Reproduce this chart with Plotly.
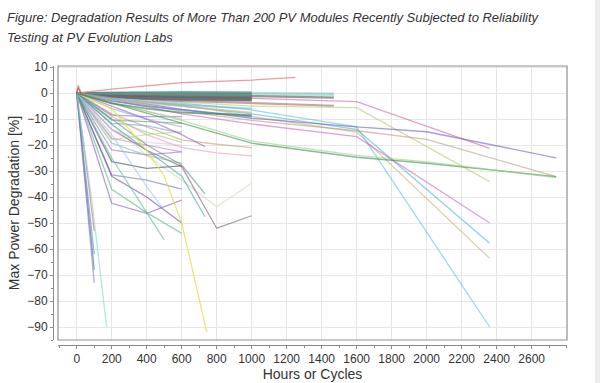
import plotly.graph_objects as go

# ---------------- text ----------------
title_line1 = "Figure: Degradation Results of More Than 200 PV Modules Recently Subjected to Reliability"
title_line2 = "Testing at PV Evolution Labs"
x_title = "Hours or Cycles"
y_title = "Max Power Degradation [%]"
x_ticks = list(range(0, 2601, 200))
y_ticks = list(range(-90, 11, 10))

# ---------------- data (max power degradation, %) ----------------
# modules that stay close to zero up to 1000 h
band_hours = [0, 200, 400, 600, 1000]
band_values = [
    [0, 0.2, 0.3, 0.4, 0.3],
    [0, -0.1, -0.2, -0.2, -0.3],
    [0, -0.3, -0.4, -0.5, -0.6],
    [0, -0.4, -0.6, -0.8, -0.9],
    [0, -0.5, -0.8, -1.0, -1.2],
    [0, -0.7, -1.0, -1.2, -1.5],
    [0, -0.8, -1.2, -1.5, -1.8],
    [0, -1.0, -1.4, -1.7, -2.1],
    [0, -1.1, -1.6, -2.0, -2.4],
    [0, -1.2, -1.8, -2.2, -2.7],
    [0, -0.6, -0.9, -1.1, -1.0],
    [0, -0.9, -1.3, -1.6, -1.9],
    [0, -1.3, -2.0, -2.4, -2.5],
    [0, -0.2, -0.3, -0.5, -0.7],
    [0, -1.5, -2.2, -2.6, -3.0],
    [0, -2.0, -3.5, -4.5, -6.0],
    [0, -3.0, -5.0, -6.5, -9.1],
    [0, -2.5, -4.0, -5.0, -7.5],
    [0, -4.0, -6.0, -7.5, -8.5],
]

# modules tested to ~1470 h
ext_hours = [0, 200, 600, 1000, 1470]
ext_values = [
    [0, 0.3, 0.2, 0.0, -0.2],
    [0, -0.2, -0.4, -0.5, -0.8],
    [0, -0.6, -1.0, -1.2, -1.8],
    [0, -1.5, -3.0, -4.0, -4.9],
]

# module with power gain
rise_hours = [0, 200, 600, 1000, 1250]
rise_values = [0, 1.5, 4.0, 5.0, 6.0]

# modules tested to ~2360 h
long_a_hours = [0, 600, 1000, 1600, 2360]
long_a_values = [
    [0, -1.5, -2.0, -3.3, -21.3],
    [0, -3.5, -5.0, -5.6, -34.1],
    [0, -4.0, -6.5, -13.0, -90.0],
    [0, -5.0, -8.0, -14.0, -57.8],
    [0, -4.5, -9.0, -15.0, -63.6],
    [0, -8.0, -11.9, -16.8, -50.0],
]

# modules tested to ~2740 h
long_b_hours = [0, 600, 1000, 1600, 2000, 2740]
long_b_values = [
    [0, -6.3, -9.7, -13.0, -14.9, -24.9],
    [0, -7.0, -10.5, -14.5, -17.8, -32.2],
    [0, -11.7, -19.3, -24.7, -27.0, -32.2],
    [0, -10.5, -18.5, -24.0, -26.5, -32.5],
]

# modules tested to ~730 h
mid_hours = [0, 200, 400, 600, 733]
mid_values = [
    [0, -5.0, -10.0, -16.0, -20.6],
    [0, -10.0, -20.0, -27.7, -38.8],
    [0, -12.0, -22.0, -32.0, -47.6],
]

# modules tested to 1000 h with an 800 h reading
k_hours = [0, 200, 400, 600, 800, 1000]
k_values = [
    [0, -8.0, -13.0, -18.0, -19.7, -21.0],
    [0, -9.0, -16.0, -21.0, -23.0, -24.2],
    [0, -12.0, -24.0, -33.5, -43.7, -34.7],
    [0, -14.0, -22.0, -28.3, -52.0, -47.2],
]

# modules tested to 600 h
short_hours = [0, 200, 400, 600]
short_values = [
    [0, -8.5, -9.1, -9.1],
    [0, -10.4, -11.0, -11.7],
    [0, -11.7, -12.5, -15.5],
    [0, -18.0, -16.0, -14.8],
    [0, -17.4, -20.0, -22.6],
    [0, -21.9, -23.8, -22.6],
    [0, -26.4, -29.0, -28.0],
    [0, -19.3, -24.0, -27.0],
    [0, -31.5, -33.5, -37.0],
    [0, -42.4, -46.3, -41.2],
    [0, -32.0, -40.0, -50.0],
    [0, -37.0, -46.0, -54.0],
    [0, -4.0, -7.0, -10.0],
    [0, -6.0, -10.0, -13.0],
    [0, -14.0, -19.0, -20.0],
    [0, -10.0, -15.0, -19.0],
]

# modules tested to 500 h
half_hours = [0, 200, 400, 500]
half_values = [
    [0, -25.0, -46.0, -56.5],
    [0, -16.0, -36.0, -45.0],
]

# yellow module with severe late failure
yellow_hours = [0, 200, 400, 500, 600, 743]
yellow_values = [0, -6.0, -22.0, -32.0, -50.0, -92.0]

# early catastrophic failures
early_hours = [0, 50, 100]
early_values = [
    [0, -35.0, -68.0],
    [0, -36.0, -73.0],
    [0, -25.0, -53.0],
    [0, -30.0, -62.0],
]
cyan_fail_hours = [0, 86, 171]
cyan_fail_values = [0, -41.0, -90.0]

# small initial gain readings
spike_hours = [0, 8, 25]
spike_values = [
    [0, 3.0, 0.0],
    [0, 2.0, -0.5],
]

# ---------------- styles ----------------
band_colors = ["#2a9d8f", "#a0413c", "#3c8c50", "#6b6b6b", "#8c5a3c", "#2aa6a0",
               "#b04848", "#5a7d6b", "#7a4b4b", "#2e8b7a", "#c06060", "#4a6f8a",
               "#8c6d4f", "#45b5aa", "#6e5a80", "#6cb8e0", "#5a78d6", "#c8b27a", "#3c8c50"]
ext_colors = ["#7cc8bc", "#9ad0c8", "#555555", "#9c6f5a"]
long_a_colors = ["#d9609f", "#bcc870", "#5cc0e0", "#4ab8d0", "#c8b27a", "#c867c8"]
long_b_colors = ["#6a5fd0", "#c09a7a", "#3c8c50", "#8fd67a"]
mid_colors = ["#9a5fd0", "#5a8c8c", "#3aa6a0"]
k_colors = ["#c8a070", "#e89ac0", "#d8d8c0", "#8a5a7a"]
short_colors = ["#6a80c0", "#5a9c7a", "#7a9ad0", "#b6dc6a", "#c87ad8", "#9a6ad0",
                "#404a5a", "#7ac09a", "#6a7ab0", "#8a5ac8", "#6a4a9a", "#5ab87a",
                "#e8a0c0", "#a0a0d0", "#e0c0e0", "#9ac8a0"]
half_colors = ["#5ab8a0", "#a0c0e0"]
early_colors = ["#2a7a8a", "#8a6ac8", "#e05a70", "#4a90c0"]

fig = go.Figure()


def add_line(hours, vals, color, width=1.3, opacity=0.6):
    fig.add_trace(go.Scatter(x=hours, y=vals, mode="lines",
                             line=dict(color=color, width=width),
                             opacity=opacity, hoverinfo="skip", showlegend=False))


def add_group(hours, values, colors, width=1.3, opacity=0.6):
    for i, vals in enumerate(values):
        add_line(hours, vals, colors[i % len(colors)], width, opacity)


add_group(k_hours, k_values, k_colors)
add_group(short_hours, short_values, short_colors)
add_group(half_hours, half_values, half_colors)
add_group(mid_hours, mid_values, mid_colors)
add_group(long_a_hours, long_a_values, long_a_colors)
add_group(long_b_hours, long_b_values, long_b_colors)
add_group(early_hours, early_values, early_colors)
add_line(cyan_fail_hours, cyan_fail_values, "#7adcd0")
add_line(yellow_hours, yellow_values, "#e6e05a", opacity=0.8)
add_group(ext_hours, ext_values, ext_colors, width=2.2, opacity=0.6)
add_group(band_hours, band_values, band_colors, width=1.8, opacity=0.65)
add_line(rise_hours, rise_values, "#e8838a", opacity=0.8)
add_group(spike_hours, spike_values, ["#e05a70", "#a0413c"])

axis_gray = "#8a8a8a"
grid_gray = "#e6e6e6"

fig.update_layout(
    width=600, height=383, autosize=False,
    margin=dict(l=53, r=33, t=66, b=38, autoexpand=False),
    paper_bgcolor="white", plot_bgcolor="white",
    showlegend=False,
    font=dict(family="Liberation Sans, Arial, sans-serif", color="#333333", size=12),
    xaxis=dict(
        domain=[5 / 514, 1], anchor="free", position=0, automargin=False,
        range=[-107, 2802], tickvals=x_ticks,
        showgrid=True, gridcolor=grid_gray, gridwidth=1, zeroline=False,
        showline=True, linecolor=axis_gray, linewidth=1,
        ticks="outside", ticklen=3, tickcolor=axis_gray,
        minor=dict(dtick=100, tick0=0, ticks="outside", ticklen=2,
                   tickcolor=axis_gray, showgrid=False),
        tickfont=dict(size=12, color="#333333"),
        title=dict(text=x_title, font=dict(size=14, color="#333333"), standoff=2),
    ),
    yaxis=dict(
        domain=[5 / 279, 1], anchor="free", position=0, automargin=False,
        range=[-95, 10.4], tickvals=y_ticks,
        showgrid=True, gridcolor=grid_gray, gridwidth=1, zeroline=False,
        showline=True, linecolor=axis_gray, linewidth=1,
        ticks="outside", ticklen=3, tickcolor=axis_gray,
        minor=dict(dtick=5, tick0=0, ticks="outside", ticklen=2,
                   tickcolor=axis_gray, showgrid=False),
        tickfont=dict(size=12, color="#333333"),
        title=dict(text=y_title, font=dict(size=14, color="#333333"), standoff=3),
    ),
    shapes=[
        dict(type="rect", xref="x domain", yref="y domain", x0=0, x1=1, y0=0, y1=1,
             line=dict(color="#8f8f8f", width=1.2), fillcolor="rgba(0,0,0,0)", layer="above"),
        dict(type="rect", xref="paper", yref="paper",
             x0=(595 - 53) / 514, x1=(602 - 53) / 514, y0=-0.2, y1=1.3,
             line=dict(width=0), fillcolor="#ececec", layer="below"),
    ],
    annotations=[
        dict(text="<i>" + title_line1 + "</i>", xref="paper", yref="paper",
             x=(5 - 53) / 514, y=(345 - 18) / 279, xanchor="left", yanchor="middle",
             showarrow=False, font=dict(size=13, color="#333333")),
        dict(text="<i>" + title_line2 + "</i>", xref="paper", yref="paper",
             x=(5 - 53) / 514, y=(345 - 37) / 279, xanchor="left", yanchor="middle",
             showarrow=False, font=dict(size=13, color="#333333")),
    ],
)

fig.write_html(
    "out.html",
    config={"displayModeBar": False},
    post_script="document.body.style.margin='0px';document.body.style.overflow='hidden';",
)
